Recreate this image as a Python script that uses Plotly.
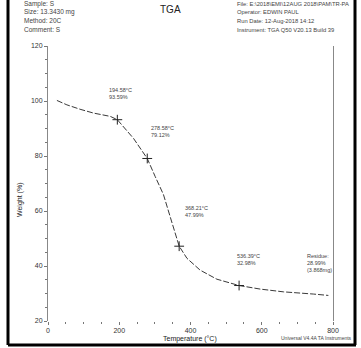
import plotly.graph_objects as go

# ---- data ----
temperature = [25, 53, 90, 128, 175, 194.6, 240, 278.6, 301, 324, 343, 357, 368.2, 390, 427, 474, 536.4, 596, 661, 745, 787]
weight = [100.2, 98.6, 97.0, 95.6, 94.4, 93.2, 86.4, 79.1, 72.5, 66.0, 57.9, 51.9, 47.2, 42.8, 38.5, 35.2, 32.9, 31.6, 30.6, 29.8, 29.3]
marker_temp = [194.6, 278.6, 368.2, 536.4]
marker_weight = [93.2, 79.1, 47.2, 32.9]
marker_labels = ["194.58°C<br>93.59%", "278.58°C<br>79.12%", "368.21°C<br>47.99%", "536.39°C<br>32.98%"]
residue_label = "Residue:<br>28.99%<br>(3.868mg)"
x_ticks = [0, 200, 400, 600, 800]
y_ticks = [20, 40, 60, 80, 100, 120]
header_left = ["Sample: S", "Size: 13.3430 mg", "Method: 20C", "Comment: S"]
header_right = ["File: E:\\2018\\EMI\\12AUG 2018\\PAM\\TR-PA", "Operator: EDWIN PAUL",
                "Run Date: 12-Aug-2018 14:12", "Instrument: TGA Q50 V20.13 Build 39"]

W, H = 361, 348
L, R, T, B = 48, 333, 46, 321


def px(x):
    return (x - L) / (R - L)


def py(y):
    return (B - y) / (B - T)


FONT = "Liberation Sans, Arial, sans-serif"

fig = go.Figure()
fig.add_trace(go.Scatter(x=temperature, y=weight, mode="lines",
                         line=dict(color="#222", width=0.9, dash="6px,2px"),
                         hoverinfo="skip", showlegend=False))
fig.add_trace(go.Scatter(x=marker_temp, y=marker_weight, mode="markers",
                         marker=dict(symbol="cross-thin", size=7, line=dict(color="#222", width=1)),
                         showlegend=False))

annotations = []
label_pos = [(107, 85), (149, 123), (183, 203), (235, 251)]
for (lx, ly), txt in zip(label_pos, marker_labels):
    annotations.append(dict(x=px(lx), y=py(ly), xref="paper", yref="paper", text=txt,
                            showarrow=False, xanchor="left", yanchor="top", align="left",
                            font=dict(size=5.5, family=FONT, color="#444")))
annotations.append(dict(x=px(305), y=py(251), xref="paper", yref="paper", text=residue_label,
                        showarrow=False, xanchor="left", yanchor="top", align="left",
                        font=dict(size=5.5, family=FONT, color="#444")))

for i, t in enumerate(header_left):
    annotations.append(dict(x=px(22), y=py(3.5 + 8.7 * i), xref="paper", yref="paper", text=t,
                            showarrow=False, xanchor="left", yanchor="middle",
                            font=dict(size=6.5, family=FONT, color="#444")))
for i, t in enumerate(header_right):
    annotations.append(dict(x=px(235), y=py(3.5 + 8.7 * i), xref="paper", yref="paper", text=t,
                            showarrow=False, xanchor="left", yanchor="middle",
                            font=dict(size=5.8, family=FONT, color="#444")))
annotations.append(dict(x=px(170), y=py(9), xref="paper", yref="paper", text="TGA",
                        showarrow=False, xanchor="center", yanchor="middle",
                        font=dict(size=10, family=FONT, color="#222")))
annotations.append(dict(x=px(20), y=py(200), xref="paper", yref="paper", text="Weight (%)",
                        showarrow=False, xanchor="center", yanchor="middle", textangle=-90,
                        font=dict(size=7, family=FONT, color="#222")))
annotations.append(dict(x=px(190), y=py(339), xref="paper", yref="paper", text="Temperature (°C)",
                        showarrow=False, xanchor="center", yanchor="middle",
                        font=dict(size=7, family=FONT, color="#222")))
annotations.append(dict(x=px(354), y=py(338), xref="paper", yref="paper",
                        text="Universal V4.4A TA Instruments",
                        showarrow=False, xanchor="right", yanchor="middle",
                        font=dict(size=5, family=FONT, color="#444")))

shapes = [
    dict(type="line", xref="paper", yref="paper", x0=px(8), x1=px(8), y0=py(0), y1=py(345),
         line=dict(color="black", width=3)),
    dict(type="line", xref="paper", yref="paper", x0=px(8), x1=px(356), y0=py(345), y1=py(345),
         line=dict(color="black", width=3)),
    dict(type="line", xref="paper", yref="paper", x0=px(355), x1=px(355), y0=py(0), y1=py(345),
         line=dict(color="black", width=3)),
]

fig.update_layout(
    width=W, height=H,
    margin=dict(l=L, r=W - R, t=T, b=H - B, pad=0),
    paper_bgcolor="white", plot_bgcolor="white",
    annotations=annotations, shapes=shapes,
    font=dict(family=FONT, size=7, color="#333"),
    xaxis=dict(range=[0, 800], tickvals=x_ticks, showgrid=False, zeroline=False,
               showline=False, ticks="outside", ticklen=3, tickcolor="#777",
               minor=dict(dtick=50, ticks="outside", ticklen=2, tickcolor="#777"),
               tickfont=dict(size=7, family=FONT, color="#333")),
    yaxis=dict(range=[20, 120], tickvals=y_ticks, showgrid=False, zeroline=False,
               showline=True, mirror=True, linecolor="#888", linewidth=1,
               ticks="outside", ticklen=3, tickcolor="#777",
               minor=dict(dtick=5, ticks="outside", ticklen=2, tickcolor="#777"),
               tickfont=dict(size=7, family=FONT, color="#333")),
)

fig.write_html("out.html")
